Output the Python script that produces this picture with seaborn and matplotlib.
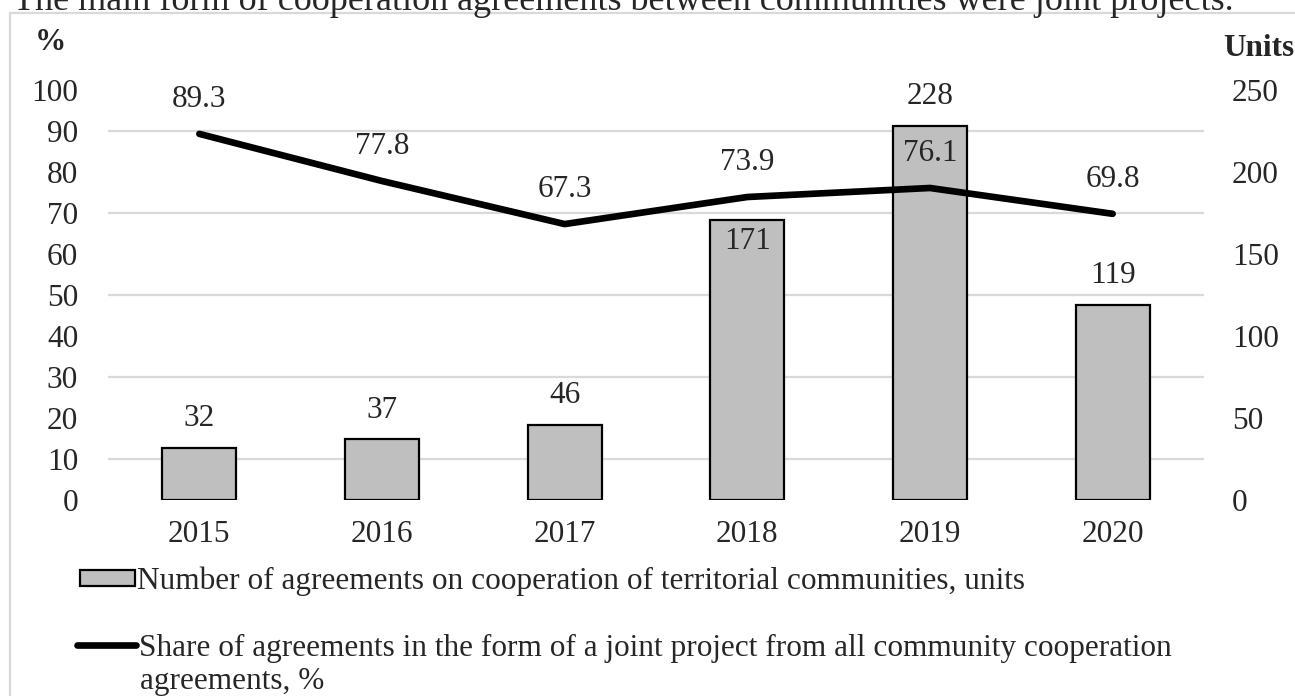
import matplotlib
matplotlib.use("Agg")
import matplotlib.pyplot as plt
import matplotlib.patches as mpatches
from matplotlib.lines import Line2D
import seaborn as sns
import pandas as pd
import numpy as np

years = ["2015", "2016", "2017", "2018", "2019", "2020"]
agreements = [32, 37, 46, 171, 228, 119]
share = [89.3, 77.8, 67.3, 73.9, 76.1, 69.8]
left_ticks = list(range(0, 101, 10))
right_ticks = list(range(0, 251, 50))
bar_label = "Number of agreements on cooperation of territorial communities, units"
line_label = "Share of agreements in the form of a joint project from all community cooperation"
line_label2 = "agreements, %"
title = "The main form of cooperation agreements between communities were joint projects."

sns.set_theme(style="white")
plt.rcParams["font.family"] = ["Liberation Serif", "DejaVu Serif"]
FS = 22.5
W, H = 1295, 696

fig = plt.figure(figsize=(12.95, 6.96), dpi=100)
ax = fig.add_axes([108/W, 1-500/H, 1096/W, 410/H])

df = pd.DataFrame({"year": years, "n": agreements})
sns.barplot(data=df, x="year", y="n", ax=ax, color="#bfbfbf", saturation=1,
            edgecolor="black", linewidth=1.6, width=0.405, zorder=3)
ax.set_ylim(0, 250)
ax.set_xlim(-0.5, 5.5)
ax.set_xlabel("")
ax.set_ylabel("")
for s in ax.spines.values():
    s.set_visible(False)

ax2 = ax.twinx()
xs = np.arange(len(years))
sns.lineplot(x=xs, y=share, ax=ax2, color="black", lw=4.8, zorder=4)
ax2.set_ylim(0, 100)
ax2.set_xlim(-0.5, 5.5)
ax2.yaxis.tick_left()
ax2.set_yticks(left_ticks)
ax2.grid(False)
for s in ax2.spines.values():
    s.set_visible(False)
ax2.tick_params(axis="y", length=0, labelsize=FS, pad=21.5, left=False, right=False,
                labelleft=True, labelright=False)
ax2.set_ylabel("")

# bar axis: ticks on the right
ax.yaxis.tick_right()
ax.set_yticks(right_ticks)
ax.set_yticks(np.arange(0, 251, 25), minor=True)
ax.grid(True, axis="y", which="minor", color="#d9d9d9", lw=1.6, zorder=0)
ax.grid(False, axis="y", which="major")
ax.grid(False, axis="x")
ax.set_axisbelow(True)
ax.tick_params(axis="y", which="both", length=0, labelsize=FS, pad=20,
               left=False, right=False, labelleft=False, labelright=True)
ax.tick_params(axis="x", length=0, labelsize=FS, pad=14.5)

for i, v in enumerate(agreements):
    if v == 171:
        ax.annotate(str(v), (i, v), xytext=(0, -16), textcoords="offset points",
                    ha="center", va="center", fontsize=FS, zorder=5)
    else:
        ax.annotate(str(v), (i, v), xytext=(0, 21), textcoords="offset points",
                    ha="center", va="center", fontsize=FS, zorder=5)

for i, v in enumerate(share):
    ax2.annotate(f"{v:.1f}", (i, v), xytext=(0, 25), textcoords="offset points",
                 ha="center", va="center", fontsize=FS, zorder=6)

fig.text(50/W, 1-43/H, "%", fontsize=FS, fontweight="bold", ha="center", va="center")
fig.text(1294/W, 1-48/H, "Units", fontsize=FS, fontweight="bold", ha="right", va="center")

fig.text(13/W, 1-10/H, title, fontsize=26, ha="left", va="baseline")

frame = mpatches.Rectangle((10/W, -0.05), 1.2, 1-13/H+0.05, transform=fig.transFigure,
                           fill=False, edgecolor="#d9d9d9", lw=1.6)
fig.patches.append(frame)

h1 = mpatches.Patch(facecolor="#bfbfbf", edgecolor="black", lw=1.6)
fig.legend([h1], [bar_label], loc="center left", bbox_to_anchor=(80/W, 1-581/H),
           frameon=False, fontsize=FS, handlelength=1.75, handleheight=0.42,
           handletextpad=0.08, borderpad=0, borderaxespad=0)
h2 = Line2D([], [], color="black", lw=4.8)
fig.legend([h2], [line_label], loc="center left", bbox_to_anchor=(77/W, 1-648/H),
           frameon=False, fontsize=FS, handlelength=1.9,
           handletextpad=0.08, borderpad=0, borderaxespad=0)
fig.text(140/W, 1-682/H, line_label2, fontsize=FS, ha="left", va="center")

fig.savefig("out.png", dpi=100)
